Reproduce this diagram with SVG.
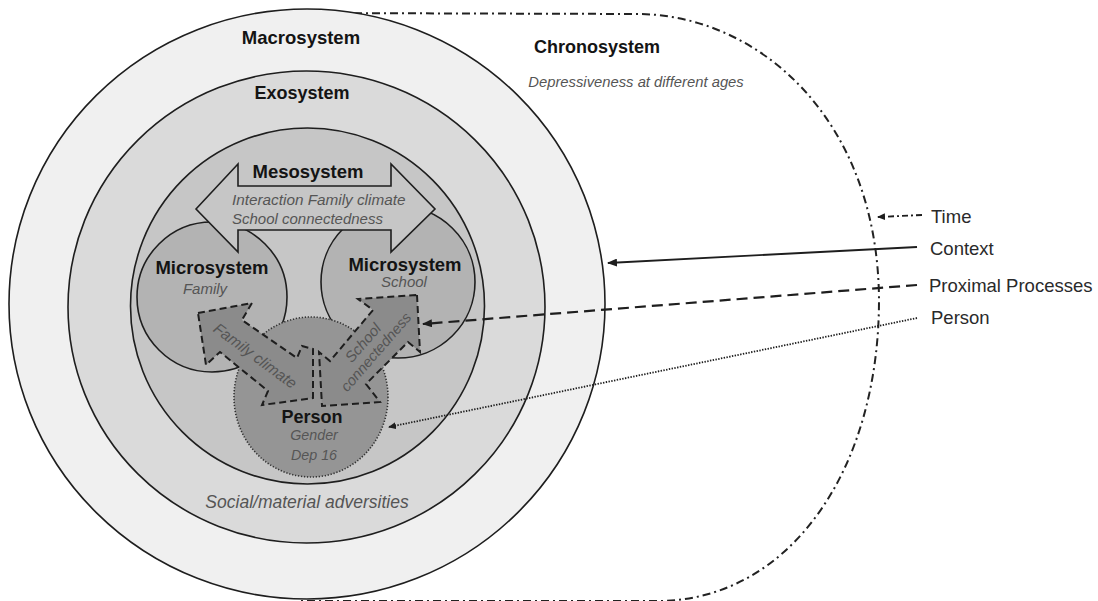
<svg xmlns="http://www.w3.org/2000/svg" width="1098" height="601" viewBox="0 0 1098 601">
<style>
text { font-family: "Liberation Sans", Arial, sans-serif; }
.b { font-weight: bold; fill: #141414; text-anchor: middle; }
.i { font-style: italic; fill: #555555; }
.c { text-anchor: middle; }
.ring { stroke: #1e1e1e; stroke-width: 1.6; }
.dash { fill: #8b8b8b; stroke: #1e1e1e; stroke-width: 2; stroke-dasharray: 7 4; stroke-linejoin: miter; }
.leg { font-size: 18.5px; fill: #2a2a2a; }
.conn { fill: none; stroke: #1e1e1e; }
</style>
<defs>
<marker id="ah" markerUnits="userSpaceOnUse" markerWidth="10" markerHeight="8" refX="9" refY="4" orient="auto"><path d="M0,0 L10,4 L0,8 z" fill="#1e1e1e"/></marker>
<marker id="ahs" markerUnits="userSpaceOnUse" markerWidth="8" markerHeight="7" refX="7" refY="3.5" orient="auto"><path d="M0,0 L8,3.5 L0,7 z" fill="#1e1e1e"/></marker>
</defs>

<g id="chronosystem">
<path d="M300,13 L640,14 C760,16 878,120 879,300 C879,470 790,599 660,601 L300,601" fill="none" stroke="#222" stroke-width="2" stroke-dasharray="8 4 2 4"/>
<text class="b" x="597" y="53" font-size="18px">Chronosystem</text>
<text class="i c" x="636" y="86.5" font-size="14.8px">Depressiveness at different ages</text>
</g>

<g id="macrosystem">
<ellipse class="ring" cx="307" cy="304" rx="298" ry="295" fill="#f0f0f0"/>
<text class="b" x="301" y="43.5" font-size="18.5px">Macrosystem</text>
</g>

<g id="exosystem">
<ellipse class="ring" cx="306.5" cy="307" rx="238.5" ry="236" fill="#dadada"/>
<text class="b" x="302" y="98.5" font-size="18px">Exosystem</text>
<text class="i c" x="307" y="508" font-size="17.5px">Social/material adversities</text>
</g>

<g id="meso-ring">
<ellipse class="ring" cx="307.5" cy="306" rx="177" ry="178" fill="#c6c6c6"/>
</g>

<g id="microsystem-family">
<ellipse class="ring" cx="212" cy="297" rx="75" ry="75" fill="#b3b3b3"/>
<text class="b" x="212" y="274" font-size="18.5px">Microsystem</text>
<text class="i c" x="205" y="293.5" font-size="15px">Family</text>
</g>

<g id="microsystem-school">
<ellipse class="ring" cx="398" cy="282" rx="77" ry="76" fill="#b3b3b3"/>
<text class="b" x="405" y="271" font-size="18.5px">Microsystem</text>
<text class="i c" x="404" y="287" font-size="15px">School</text>
</g>

<g id="mesosystem">
<polygon class="ring" points="196,209 238,164 238,186 391,186 391,164 435,209 391,252 391,230 238,230 238,252" fill="#c6c6c6" stroke-linejoin="miter"/>
<text class="b" x="308" y="178" font-size="18.5px">Mesosystem</text>
<text class="i" x="232" y="205" font-size="15.3px">Interaction Family climate</text>
<text class="i" x="232" y="224" font-size="15px">School connectedness</text>
</g>

<g id="person">
<ellipse cx="311" cy="397" rx="77" ry="80" fill="#959595" stroke="#333" stroke-width="1.6" stroke-dasharray="1.3 1.7"/>
</g>

<g id="family-climate">
<polygon class="dash" points="198,313 252,303 242,320 297,358 302,346 313,349 313,398 262,405 268,391 220,352 206,365"/>
<text class="i c" transform="translate(255,356) rotate(36.4)" y="5" font-size="15.5px" fill="#333">Family climate</text>
</g>

<g id="school-connectedness">
<polygon class="dash" points="417,295 420,352 408,342 366,384 380,402 322,406 319,352 330,361 373,310 358,299"/>
<text class="i c" transform="translate(363,343) rotate(-49)" y="5" font-size="15px" fill="#333">School</text>
<text class="i c" transform="translate(376,352) rotate(-49)" y="5" font-size="14.7px" fill="#333">connectedness</text>
</g>

<g id="person-labels">
<text class="b" x="312" y="423" font-size="18px">Person</text>
<text class="i c" x="314" y="440" font-size="14.3px">Gender</text>
<text class="i c" x="314" y="460" font-size="14.3px">Dep 16</text>
</g>

<g id="connectors">
<line class="conn" x1="922" y1="215" x2="878" y2="217" stroke-width="1.8" stroke-dasharray="6 3 2 3" marker-end="url(#ahs)"/>
<line class="conn" x1="917" y1="247" x2="608" y2="263" stroke-width="1.8" marker-end="url(#ah)"/>
<line class="conn" x1="917" y1="285" x2="423" y2="324" stroke-width="2.2" stroke-dasharray="11 6" marker-end="url(#ah)"/>
<line class="conn" x1="917" y1="318" x2="389" y2="427" stroke-width="1.8" stroke-dasharray="1.4 1.4" marker-end="url(#ahs)"/>
</g>

<g id="legend">
<text class="leg" x="931" y="222.5">Time</text>
<text class="leg" x="930" y="255">Context</text>
<text class="leg" x="929" y="292">Proximal Processes</text>
<text class="leg" x="931" y="324">Person</text>
</g>
</svg>
